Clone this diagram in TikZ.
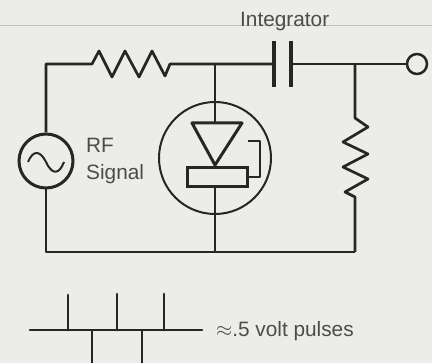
\documentclass[tikz,border=0pt]{standalone}
\usepackage{fontspec}
\setmainfont{Liberation Sans}
\usetikzlibrary{backgrounds}

\colorlet{inkcolor}{black!85}
\definecolor{papercolor}{RGB}{236,236,233}

\begin{document}
\begin{tikzpicture}
          [x=1pt, y=-1pt,
           wire/.style = {draw = inkcolor, line width = 2.7pt, line join = round},
           label/.style = {text = black!70, font = \fontsize{20.8}{24}\selectfont, inner sep = 0pt}]

\useasboundingbox (0,0) rectangle (432,363);
\fill [papercolor] (0,0) rectangle (432,363);
\draw [black!25, line width = .5pt] (0,25) -- (432,25);

% Fixed points
\coordinate (topleft) at (45,64);
\coordinate (botleft) at (45,252);
\coordinate (resin) at (92,64);
\coordinate (resout) at (170,64);
\coordinate (diodetop) at (215,64);
\coordinate (diodebot) at (215,252);
\coordinate (capin) at (274,64);
\coordinate (capout) at (291,64);
\coordinate (loadtop) at (355,64);
\coordinate (loadbot) at (355,252);
\coordinate (gatein) at (248,141);
\coordinate (gateout) at (247,177);

% Parts
\node [circle, draw = inkcolor, line width = 3pt, minimum size = 54pt, inner sep = 0pt] (source) at (46,161) {};
\node [circle, draw = inkcolor, line width = 2pt, minimum size = 112pt, inner sep = 0pt] (fet) at (215,158) {};
\node [circle, draw = inkcolor, line width = 2.5pt, minimum size = 20pt, inner sep = 0pt] (output) at (417,64) {};
\node [rectangle, draw = inkcolor, line width = 3pt, minimum width = 60pt, minimum height = 19pt, inner sep = 0pt] (bar) at (217,177) {};

% Labels
\node [label, anchor = base west] (integrator) at (240,27) {Integrator};
\node [label, anchor = base west] (rf) at (86,153) {RF};
\node [label, anchor = base west] (signal) at (86,180) {Signal};
\node [label, anchor = base west] (pulses) at (216,337) {$\approx$.5 volt pulses};

% Circuit
\draw [wire] (source.north) -- (topleft -| source) -- (resin)
     -- (99,51) -- (112,77) -- (125,51) -- (139,77) -- (152,51) -- (165,76) -- (resout) -- (capin);
\draw [wire] (capout) -- (output.west);
\draw [wire] (source.south) -- (botleft -| source) -- (diodebot) -- (loadbot);
\draw [wire] (diodetop) -- (215,123);
\draw [wire] (bar.south -| diodebot) -- (diodebot);
\draw [wire] (loadtop) -- (355,118) -- (368,127) -- (343,142) -- (368,154) -- (343,167) -- (368,179) -- (345,192) -- (355,197) -- (loadbot);

% Capacitor
\draw [wire, line width = 3.2pt] (capin |- 0,41) -- (capin |- 0,87);
\draw [wire, line width = 3.2pt] (capout |- 0,41) -- (capout |- 0,87);

% Diode
\draw [wire, line width = 3pt] (192,123) -- (242,123) -- (215,165) -- cycle;
\draw [wire, line width = 1.6pt] (gatein) -- (260,141) -- (260,177) -- (gateout);

% AC sine
\draw [wire, line width = 2pt] (28,162) .. controls (33,150) and (40,150) .. (46,162) .. controls (52,175) and (59,175) .. (64,162);

% Pulse train
\coordinate (pulseleft) at (30,330);
\coordinate (pulseright) at (202,330);
\draw [wire, line cap = round] (pulseleft) -- (pulseright);
\foreach \x/\ytop in {68/295, 117/294, 164/294}
  \draw [wire, line cap = round] (\x,330) -- (\x,\ytop);
\foreach \x in {92,142}
  \draw [wire] (\x,330) -- (\x,363);

\end{tikzpicture}
\end{document}
